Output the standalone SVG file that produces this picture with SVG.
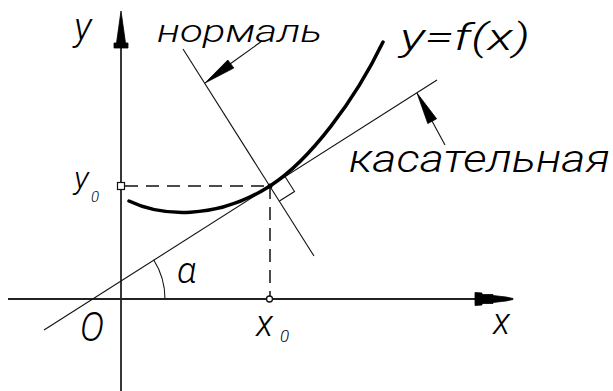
<svg xmlns="http://www.w3.org/2000/svg" width="613" height="391" viewBox="0 0 613 391">
<style>
.t{font-family:Roboto,"Liberation Sans",sans-serif;font-style:italic;font-weight:300;fill:#000}
.ax{stroke:#222;stroke-width:1.8;fill:none}
.thin{stroke:#111;stroke-width:1.1;fill:none}
.dash{stroke:#111;stroke-width:1.5;fill:none;stroke-dasharray:13 8}
.head{fill:#000;stroke:#000;stroke-width:0.8}
</style>
<rect width="613" height="391" fill="#fff"/>
<g id="axes">
<line class="ax" x1="121" y1="40" x2="121" y2="391"/>
<polygon class="head" points="121,11 116.5,43 114,43 114,48 128,48 128,43 125.5,43"/>
<line class="ax" x1="8" y1="299" x2="480" y2="299"/>
<polygon class="head" points="475,292.5 482,293 482,294.5 493,294.5 493,295.5 506,297 513,298.5 513,299.5 506,301 493,302.5 493,303.5 482,303.5 482,305 475,305.5"/>
</g>
<g id="connectors">
<line class="thin" x1="44" y1="330" x2="437" y2="80"/>
<line class="thin" x1="183" y1="49" x2="314" y2="256"/>
<polyline class="thin" points="285,176.5 294.5,191.5 279.5,201"/>
<line class="dash" x1="125" y1="186" x2="270" y2="186"/>
<line class="dash" x1="270" y1="186" x2="270" y2="296"/>
<path class="thin" d="M165,299 A73,73 0 0 0 153.6,259.8"/>
<line class="thin" x1="230" y1="64" x2="262" y2="41"/>
<polygon class="head" points="205,83 233.8,68 227.8,60"/>
<line class="thin" x1="432" y1="121" x2="445" y2="145"/>
<polygon class="head" points="417,93 436.6,118.8 427.8,123.6"/>
</g>
<g id="curve">
<path d="M129,201 C160,216 215,221 270,186 C310,160.5 355,100 383,42" fill="none" stroke="#000" stroke-width="3.5" stroke-linecap="round"/>
</g>
<g id="points">
<rect x="117.5" y="182.5" width="7" height="7" fill="#fff" stroke="#111" stroke-width="1.2"/>
<circle cx="269.5" cy="299" r="3" fill="#fff" stroke="#111" stroke-width="1.3"/>
<circle cx="270" cy="186" r="2.5" fill="#000"/>
</g>
<g id="labels">
<text class="t" x="74" y="40" font-size="38">y</text>
<text class="t" x="74" y="189" font-size="32">y</text>
<text class="t" x="91" y="202" font-size="15">0</text>
<text class="t" x="493" y="334" font-size="36">x</text>
<text class="t" x="256" y="336" font-size="36">x</text>
<text class="t" x="280" y="342" font-size="17">0</text>
<text class="t" x="80" y="341" font-size="41" textLength="24" lengthAdjust="spacingAndGlyphs">O</text>
<text class="t" x="177" y="283" font-size="36">α</text>
<text class="t" x="157" y="42" font-size="32" textLength="165" lengthAdjust="spacingAndGlyphs">нормаль</text>
<text class="t" x="400" y="50" font-size="36" textLength="130" lengthAdjust="spacingAndGlyphs">y=f(x)</text>
<text class="t" x="349" y="172" font-size="38" textLength="261" lengthAdjust="spacingAndGlyphs">касательная</text>
</g>
</svg>
